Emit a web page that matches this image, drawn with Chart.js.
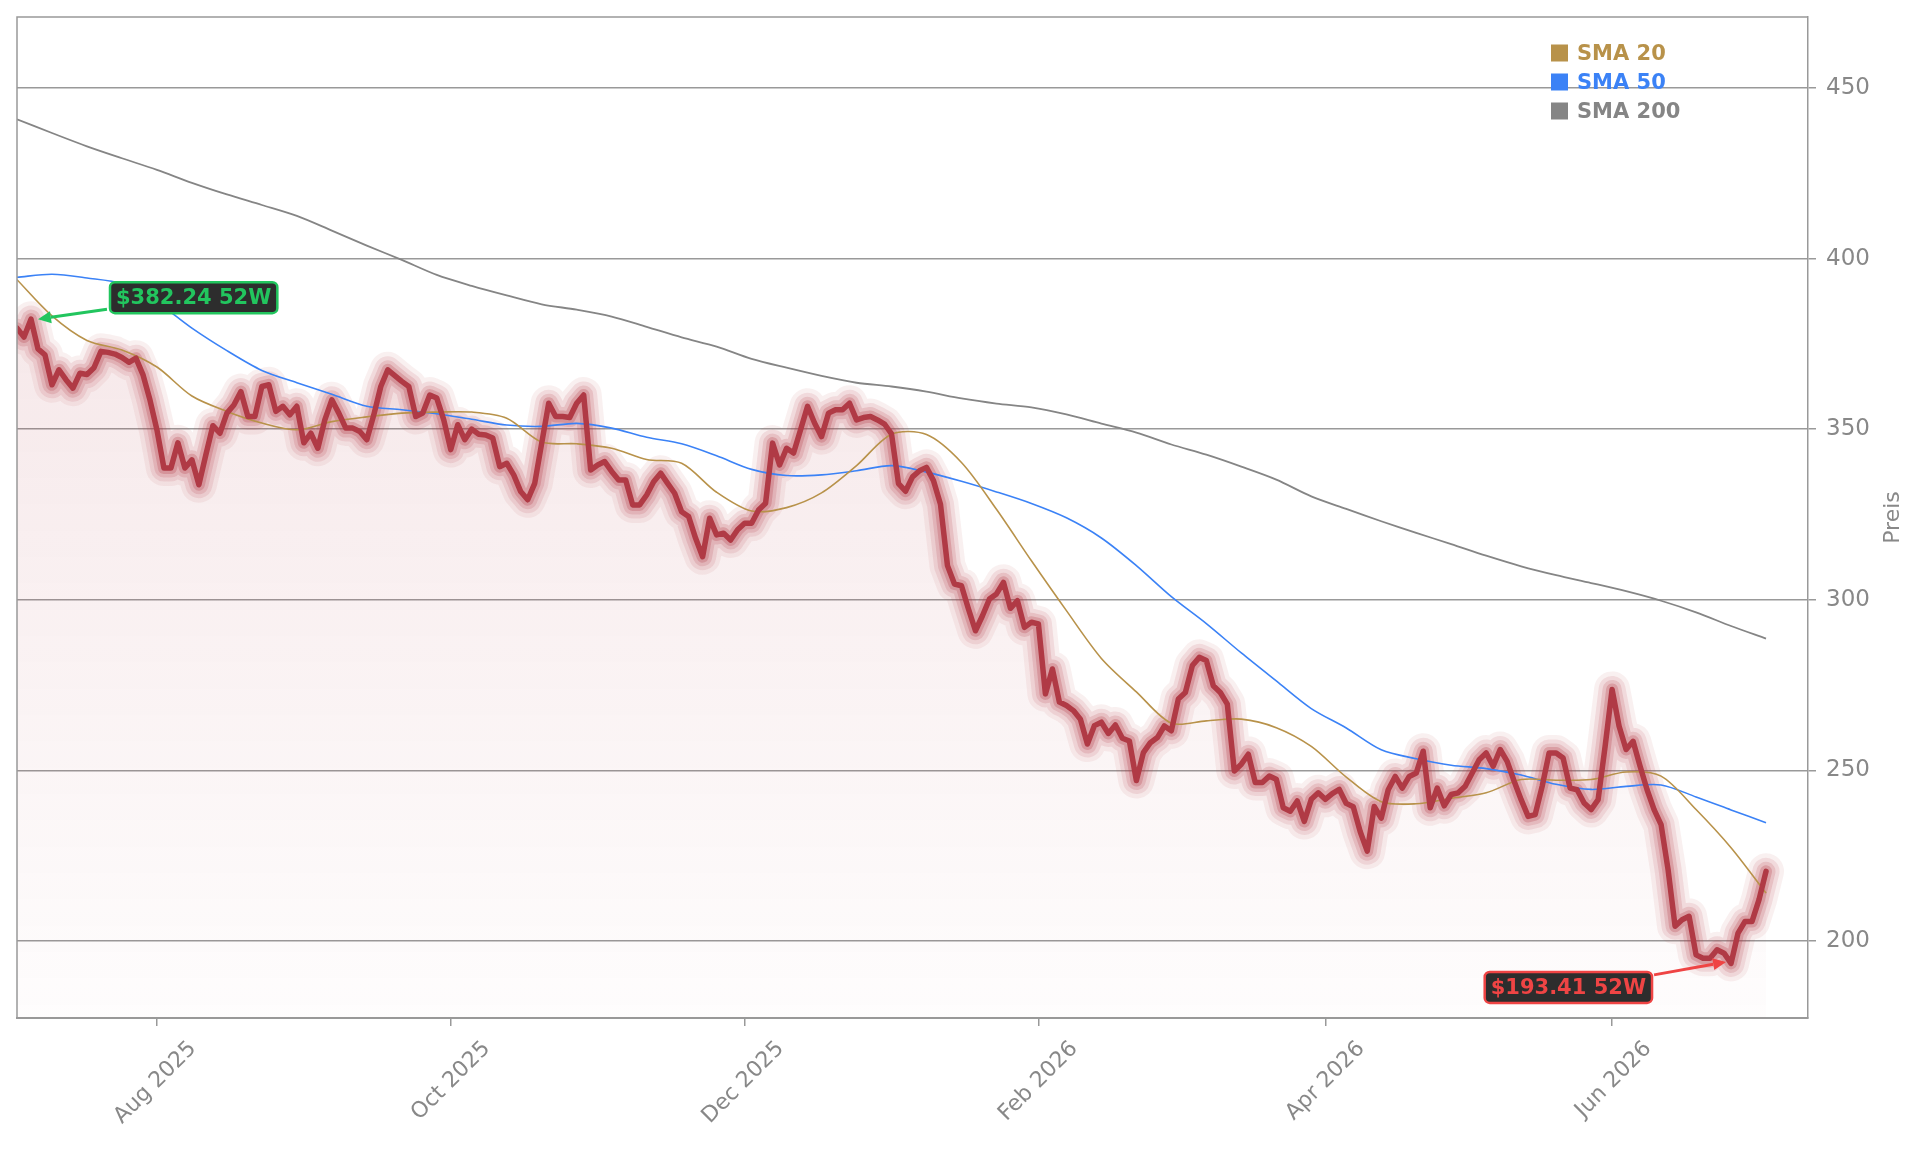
<!DOCTYPE html>
<html>
<head>
<meta charset="utf-8">
<script src="https://cdn.jsdelivr.net/npm/chart.js@4.4.1/dist/chart.umd.min.js"></script>
<style>
  html, body { margin: 0; padding: 0; background: #fff; }
  #wrap { width: 1921px; height: 1151px; }
</style>
</head>
<body>
<div id="wrap"><canvas id="chart"></canvas></div>
<script>
// trading days, index 0 = 3 Jul 2025 ... 250 = 2 Jul 2026
var tickDays = [20, 62, 104, 146, 187, 228];
var tickLabels = ['Aug 2025', 'Oct 2025', 'Dec 2025', 'Feb 2026', 'Apr 2026', 'Jun 2026'];
var yTicks = [200, 250, 300, 350, 400, 450];

// daily close
var price = [
  379.6, 377.0, 382.24, 373.5, 371.8, 363.0, 367.4, 364.5, 362.0, 366.4,
  366.0, 368.0, 372.8, 372.5, 372.0, 371.0, 369.6, 370.8, 366.0, 358.6,
  349.8, 338.6, 338.6, 346.0, 338.6, 341.0, 333.7, 342.5, 351.0, 348.8,
  354.7, 357.1, 361.0, 353.7, 353.7, 362.5, 363.0, 355.2, 356.7, 354.2,
  356.7, 346.0, 348.8, 344.4, 352.7, 358.6, 354.7, 350.3, 350.3, 349.3,
  346.9, 354.2, 362.5, 367.4, 365.7, 364.0, 362.5, 353.7, 354.7, 360.0,
  359.1, 352.7, 344.0, 351.3, 346.9, 350.0, 348.5, 348.3, 347.4, 339.0,
  340.0, 336.6, 331.7, 329.3, 334.1, 345.9, 357.6, 353.7, 353.7, 353.4,
  357.6, 360.0, 338.0, 339.5, 340.5, 337.6, 335.1, 335.1, 327.8, 327.8,
  330.7, 334.6, 337.1, 334.1, 331.2, 325.8, 324.4, 318.0, 312.6, 323.9,
  319.0, 319.5, 317.5, 320.5, 322.4, 322.4, 326.3, 328.3, 345.9, 339.5,
  344.4, 343.0, 349.8, 356.7, 351.8, 347.8, 354.7, 355.7, 355.7, 357.6,
  352.7, 353.4, 353.7, 352.7, 351.5, 348.6, 334.0, 331.8, 336.0, 337.8,
  338.8, 334.9, 328.0, 310.0, 304.6, 304.1, 297.3, 290.9, 295.3, 300.2,
  301.7, 305.1, 297.5, 299.7, 291.9, 293.4, 292.9, 272.4, 279.7, 270.0,
  269.0, 267.5, 265.0, 257.7, 263.1, 264.1, 260.8, 263.3, 259.4, 258.6,
  247.0, 255.2, 258.1, 259.6, 263.0, 261.6, 270.9, 272.8, 280.7, 283.1,
  282.2, 274.8, 272.8, 269.4, 249.8, 251.8, 254.7, 246.4, 246.4, 248.3,
  247.4, 239.0, 238.0, 241.0, 235.0, 241.5, 243.4, 241.5, 243.2, 244.4,
  240.3, 239.3, 232.0, 226.3, 239.4, 236.0, 244.3, 248.2, 244.8, 248.2,
  249.2, 255.6, 239.0, 244.8, 239.6, 242.9, 243.4, 245.3, 249.2, 253.1,
  255.1, 251.2, 256.1, 252.6, 246.8, 241.4, 236.5, 237.0, 245.3, 255.1,
  255.1, 253.6, 244.8, 244.3, 240.4, 238.5, 241.4, 257.0, 273.7, 262.9,
  256.1, 258.5, 251.2, 244.3, 238.5, 234.1, 220.9, 204.3, 206.2, 207.2,
  195.9, 194.9, 194.9, 197.4, 196.4, 193.41, 202.3, 205.7, 205.7, 212.1,
  220.4
];

// moving averages, read every 5th trading day
var smaDays = [0, 5, 10, 15, 20, 25, 30, 35, 40, 45, 50, 55, 60, 65, 70, 75, 80, 85, 90, 95,
  100, 105, 110, 115, 120, 125, 130, 135, 140, 145, 150, 155, 160, 165, 170, 175, 180, 185, 190, 195,
  200, 205, 210, 215, 220, 225, 230, 235, 240, 245, 250];
var sma20 = [393.8, 383.2, 376.0, 373.2, 368.2, 359.7, 355.2, 351.8, 349.8, 352.2,
  353.6, 354.7, 355.0, 355.0, 353.2, 346.2, 345.7, 344.4, 341.1, 340.0,
  331.5, 326.0, 327.0, 331.3, 339.3, 348.5, 348.4, 340.2, 326.5, 311.4,
  296.8, 282.8, 273.0, 263.8, 264.5, 265.0, 262.5, 257.0, 248.0, 240.8,
  240.2, 241.8, 243.4, 247.3, 247.1, 247.3, 249.5, 248.3, 238.5, 227.3,
  214.0];
var sma50 = [394.5, 395.4, 394.3, 392.6, 387.2, 379.6, 373.0, 367.2, 363.6, 360.2,
  356.7, 355.7, 354.5, 352.9, 351.2, 350.8, 351.7, 350.3, 347.6, 345.7,
  342.2, 338.2, 336.4, 336.6, 337.8, 339.3, 337.4, 334.7, 331.6, 328.2,
  324.0, 318.1, 310.0, 300.9, 293.0, 284.4, 276.2, 268.1, 262.4, 256.0,
  253.4, 251.5, 250.5, 248.6, 245.9, 244.4, 245.3, 245.7, 242.2, 238.4,
  234.6];
var sma200 = [440.8, 436.8, 432.9, 429.4, 426.0, 422.2, 418.8, 415.7, 412.5, 408.2,
  403.8, 399.6, 395.2, 392.0, 389.2, 386.6, 385.0, 383.0, 380.0, 376.9,
  374.2, 370.6, 368.0, 365.6, 363.6, 362.5, 361.0, 359.0, 357.5, 356.4,
  354.3, 351.6, 349.0, 345.5, 342.5, 339.0, 335.2, 330.3, 326.6, 323.0,
  319.6, 316.3, 312.9, 309.8, 307.2, 304.9, 302.5, 299.7, 296.3, 292.3,
  288.6];

var smaNames = ['SMA 20', 'SMA 50', 'SMA 200'];
var smaColors = ['#b8924a', '#3b82f6', '#858585'];

Chart.defaults.font.family = '"DejaVu Sans", sans-serif';

var pricePts = price.map((v, i) => ({x: i, y: v}));
function smaPts(arr) {
  return arr.map((v, k) => ({x: smaDays[k], y: v}));
}

function glow(width, alpha) {
  return {
    data: pricePts,
    borderColor: 'rgba(178, 58, 70, ' + alpha + ')',
    borderWidth: width,
    borderJoinStyle: 'round',
    borderCapStyle: 'round',
    pointRadius: 0,
    fill: false,
    clip: 0
  };
}

function sma(k, arr, width) {
  return {
    label: smaNames[k],
    data: smaPts(arr),
    borderColor: smaColors[k],
    borderWidth: width,
    tension: 0.3,
    pointRadius: 0,
    fill: false
  };
}

const frame = {
  id: 'frame',
  afterDraw(chart) {
    const {ctx, chartArea: a} = chart;
    ctx.save();
    ctx.strokeStyle = '#999';
    ctx.lineWidth = 1.5;
    ctx.beginPath();
    ctx.moveTo(a.left, a.bottom);
    ctx.lineTo(a.left, a.top);
    ctx.lineTo(a.right, a.top);
    ctx.stroke();
    // y axis title, reading upwards
    ctx.translate(a.right + 85, (a.top + a.bottom) / 2);
    ctx.rotate(-Math.PI / 2);
    ctx.font = '22px "DejaVu Sans"';
    ctx.fillStyle = '#888';
    ctx.textAlign = 'center';
    ctx.textBaseline = 'middle';
    ctx.fillText('Preis', 0, 0);
    ctx.restore();
  }
};

const smaLegend = {
  id: 'smaLegend',
  afterDraw(chart) {
    const {ctx, chartArea: a} = chart;
    ctx.save();
    ctx.font = 'bold 21px "DejaVu Sans"';
    ctx.textBaseline = 'alphabetic';
    ctx.textAlign = 'left';
    smaNames.forEach((name, k) => {
      const cy = a.top + 36 + k * 29;
      ctx.fillStyle = smaColors[k];
      ctx.fillRect(a.right - 257, cy - 8.5, 17, 17);
      ctx.fillText(name, a.right - 231, cy + 7);
    });
    ctx.restore();
  }
};

function arrow(ctx, x0, y0, x1, y1, color) {
  const ang = Math.atan2(y1 - y0, x1 - x0);
  const hl = 13, hw = 6;
  ctx.strokeStyle = color;
  ctx.fillStyle = color;
  ctx.lineWidth = 3;
  ctx.beginPath();
  ctx.moveTo(x0, y0);
  ctx.lineTo(x1 - hl * Math.cos(ang), y1 - hl * Math.sin(ang));
  ctx.stroke();
  ctx.beginPath();
  ctx.moveTo(x1, y1);
  ctx.lineTo(x1 - hl * Math.cos(ang) - hw * Math.sin(ang), y1 - hl * Math.sin(ang) + hw * Math.cos(ang));
  ctx.lineTo(x1 - hl * Math.cos(ang) + hw * Math.sin(ang), y1 - hl * Math.sin(ang) - hw * Math.cos(ang));
  ctx.closePath();
  ctx.fill();
}

var tagFont = 'bold 21px "DejaVu Sans"';

function tag(ctx, text, color, left, top) {
  ctx.font = tagFont;
  const w = ctx.measureText(text).width + 12, h = 31;
  ctx.fillStyle = '#2d2d2d';
  ctx.strokeStyle = color;
  ctx.lineWidth = 2.5;
  ctx.beginPath();
  ctx.roundRect(left, top, w, h, 5);
  ctx.fill();
  ctx.stroke();
  ctx.fillStyle = color;
  ctx.textAlign = 'center';
  ctx.textBaseline = 'middle';
  ctx.fillText(text, left + w / 2, top + h / 2 + 1);
  return w;
}

const markers = {
  id: 'markers',
  afterDraw(chart) {
    const {ctx, scales: {x, y}} = chart;
    const hi = Math.max(...price), lo = Math.min(...price);
    const hiX = x.getPixelForValue(price.indexOf(hi)), hiY = y.getPixelForValue(hi);
    const loX = x.getPixelForValue(price.indexOf(lo)), loY = y.getPixelForValue(lo);
    ctx.save();
    tag(ctx, '$' + hi.toFixed(2) + ' 52W', '#22c55e', hiX + 79, hiY - 37);
    arrow(ctx, hiX + 76, hiY - 10, hiX + 7, hiY, '#22c55e');
    ctx.font = tagFont;
    const loText = '$' + lo.toFixed(2) + ' 52W';
    const w = ctx.measureText(loText).width + 12;
    tag(ctx, loText, '#ef4444', loX - 79 - w, loY + 8.5);
    arrow(ctx, loX - 77, loY + 11.5, loX - 5, loY - 1.5, '#ef4444');
    ctx.restore();
  }
};

new Chart(document.getElementById('chart'), {
  type: 'line',
  data: {
    datasets: [
      {
        label: 'Preis',
        data: pricePts,
        borderColor: '#b03a45',
        borderWidth: 5.5,
        borderJoinStyle: 'round',
        borderCapStyle: 'round',
        pointRadius: 0,
        fill: false
      },
      sma(0, sma20, 1.6),
      sma(1, sma50, 1.6),
      sma(2, sma200, 1.8),
      glow(12, 0.26),
      glow(19, 0.17),
      glow(27, 0.12),
      glow(36, 0.08),
      {
        data: pricePts,
        borderWidth: 0,
        pointRadius: 0,
        fill: 'start',
        backgroundColor: (c) => {
          const a = c.chart.chartArea;
          if (!a) return 'rgba(178,58,70,0.06)';
          const g = c.chart.ctx.createLinearGradient(0, a.top, 0, a.bottom);
          g.addColorStop(0, 'rgba(178, 58, 70, 0.16)');
          g.addColorStop(1, 'rgba(178, 58, 70, 0.01)');
          return g;
        }
      }
    ]
  },
  options: {
    responsive: true,
    maintainAspectRatio: false,
    animation: false,
    layout: { padding: { left: 17, top: 17, right: 0, bottom: 0 } },
    plugins: {
      legend: { display: false },
      tooltip: { enabled: false }
    },
    scales: {
      x: {
        type: 'linear',
        min: 0,
        max: 256,
        afterBuildTicks: (s) => { s.ticks = tickDays.map(v => ({value: v})); },
        afterFit: (s) => { s.height = 133; s.paddingLeft = 0; s.paddingRight = 0; },
        grid: { drawOnChartArea: false, drawTicks: true, tickLength: 8, color: '#999', lineWidth: 1.5 },
        border: { display: true, color: '#999', width: 2 },
        ticks: {
          autoSkip: false,
          minRotation: 45,
          maxRotation: 45,
          padding: 10,
          labelOffset: 36,
          color: '#888',
          font: { size: 22 },
          callback: (v) => tickLabels[tickDays.indexOf(v)]
        }
      },
      y: {
        position: 'right',
        min: 177.4,
        max: 470.8,
        afterBuildTicks: (s) => { s.ticks = yTicks.map(v => ({value: v})); },
        afterFit: (s) => { s.width = 113; s.paddingTop = 0; s.paddingBottom = 0; },
        grid: { color: '#999', lineWidth: 1.5, tickLength: 8 },
        border: { display: true, color: '#999', width: 1.5 },
        ticks: { color: '#888', padding: 10, font: { size: 23 } }
      }
    }
  },
  plugins: [frame, smaLegend, markers]
});
</script>
</body>
</html>
